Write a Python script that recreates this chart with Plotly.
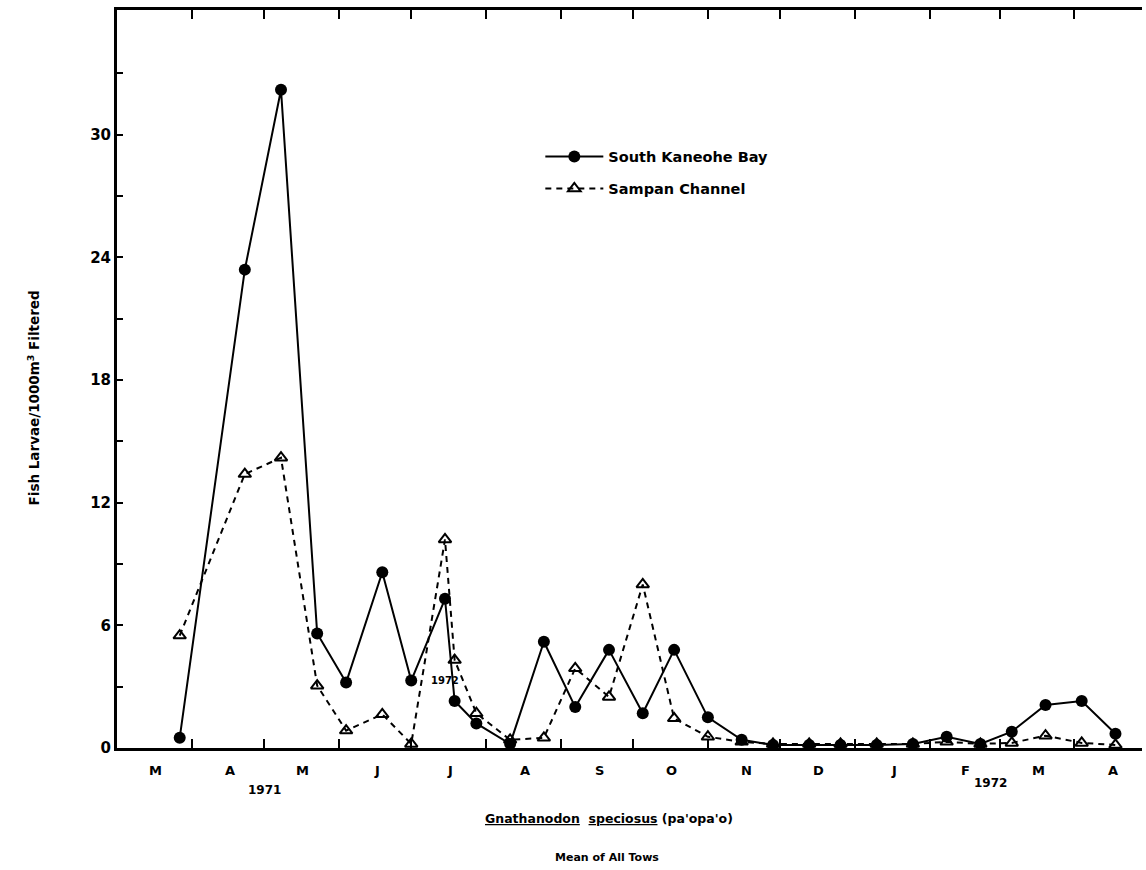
import calendar
from datetime import date, timedelta

import plotly.graph_objects as go

# Sampling dates (biweekly tows, March 1971 - April 1972)
sample_dates = [
    "1971-03-27", "1971-04-23", "1971-05-08", "1971-05-23", "1971-06-04",
    "1971-06-19", "1971-07-01", "1971-07-15", "1971-07-19", "1971-07-28",
    "1971-08-11", "1971-08-25", "1971-09-07", "1971-09-21", "1971-10-05",
    "1971-10-18", "1971-11-01", "1971-11-15", "1971-11-28", "1971-12-13",
    "1971-12-26", "1972-01-10", "1972-01-25", "1972-02-08", "1972-02-22",
    "1972-03-06", "1972-03-20", "1972-04-04", "1972-04-18",
]

# Fish larvae per 1000 m^3 filtered, mean of all tows
south_kaneohe = [
    0.5, 23.4, 32.2, 5.6, 3.2, 8.6, 3.3, 7.3, 2.3, 1.2,
    0.2, 5.2, 2.0, 4.8, 1.7, 4.8, 1.5, 0.4, 0.15, 0.15,
    0.15, 0.15, 0.2, 0.55, 0.2, 0.8, 2.1, 2.3, 0.7,
]
sampan_channel = [
    5.5, 13.4, 14.2, 3.05, 0.85, 1.65, 0.2, 10.2, 4.3, 1.7,
    0.4, 0.5, 3.9, 2.5, 8.0, 1.45, 0.55, 0.3, 0.2, 0.2,
    0.2, 0.2, 0.2, 0.3, 0.2, 0.25, 0.6, 0.25, 0.15,
]

month_letters = ["M", "A", "M", "J", "J", "A", "S", "O", "N", "D", "J", "F", "M", "A"]
y_tick_values = [0, 3, 6, 9, 12, 15, 18, 21, 24, 27, 30, 33]
y_tick_labels = ["0", "", "6", "", "12", "", "18", "", "24", "", "30", ""]

FONT = "DejaVu Sans"
BLACK = "#000000"


def bold(size):
    return dict(family=FONT, size=size, color=BLACK, weight="bold")


# Month starts (tick marks) and mid-month positions (letters)
months = []
y, m = 1971, 3
for _ in range(len(month_letters)):
    months.append((y, m))
    m += 1
    if m > 12:
        m, y = 1, y + 1
month_starts = [date(yy, mm, 1) for yy, mm in months]
month_mids = [
    date(yy, mm, 1) + timedelta(days=calendar.monthrange(yy, mm)[1] / 2 + 1)
    for yy, mm in months
]
tick_dates = [d.isoformat() for d in month_starts[1:]]

fig = go.Figure()

fig.add_trace(go.Scatter(
    x=sample_dates, y=south_kaneohe, name="South Kaneohe Bay",
    legendgroup="skb", mode="lines+markers",
    line=dict(color=BLACK, width=2),
    marker=dict(symbol="circle", size=12, color=BLACK),
    cliponaxis=False,
))
fig.add_trace(go.Scatter(
    x=sample_dates, y=sampan_channel, name="Sampan Channel",
    legendgroup="sc", mode="lines+markers",
    line=dict(color=BLACK, width=2, dash="6px,5px"),
    marker=dict(symbol="triangle-up-open", size=11, color=BLACK,
                line=dict(width=2, color=BLACK)),
    cliponaxis=False,
))

annotations = []
for d, letter in zip(month_mids, month_letters):
    annotations.append(dict(
        x=d.isoformat(), xref="x", y=-0.031, yref="paper",
        text=letter, showarrow=False, yanchor="middle", xanchor="center",
        font=bold(13),
    ))
annotations += [
    dict(x="1971-05-01", xref="x", y=-0.057, yref="paper", text="1971",
         showarrow=False, yanchor="middle", xanchor="center", font=bold(12)),
    dict(x="1972-02-26", xref="x", y=-0.047, yref="paper", text="1972",
         showarrow=False, yanchor="middle", xanchor="center", font=bold(12)),
    dict(x="1971-07-15", xref="x", y=3.3, yref="y", text="1972",
         showarrow=False, yanchor="middle", xanchor="center", font=bold(10)),
    dict(x=0.48, xref="paper", y=-0.095, yref="paper",
         text="<u>Gnathanodon</u>  <u>speciosus</u> (pa'opa'o)",
         showarrow=False, yanchor="middle", xanchor="center", font=bold(12.5)),
    dict(x=0.478, xref="paper", y=-0.148, yref="paper", text="Mean of All Tows",
         showarrow=False, yanchor="middle", xanchor="center", font=bold(11)),
    dict(x=-0.081, xref="paper", y=0.475, yref="paper", textangle=-90,
         text="Fish Larvae/1000m<sup>3</sup> Filtered",
         showarrow=False, yanchor="middle", xanchor="center", font=bold(13.5)),
]

fig.update_layout(
    width=1146, height=870,
    margin=dict(l=117, r=4, t=10, b=122),
    paper_bgcolor="white", plot_bgcolor="white",
    showlegend=True,
    legend=dict(
        x=0.413, y=0.823, xanchor="left", yanchor="top",
        bgcolor="rgba(0,0,0,0)", itemwidth=58,
        traceorder="grouped", tracegroupgap=10,
        font=bold(14.5),
    ),
    annotations=annotations,
    xaxis=dict(
        type="date", range=["1971-03-01", "1972-04-29"],
        tickvals=tick_dates, showticklabels=False,
        ticks="inside", ticklen=9, tickwidth=2, tickcolor=BLACK,
        showline=True, linewidth=3, linecolor=BLACK, mirror="ticks",
        showgrid=False, zeroline=False,
    ),
    yaxis=dict(
        range=[0, 36.1], tickvals=y_tick_values, ticktext=y_tick_labels,
        ticks="inside", ticklen=6, tickwidth=2, tickcolor=BLACK,
        showline=True, linewidth=3, linecolor=BLACK,
        showgrid=False, zeroline=False,
        tickfont=bold(15),
    ),
    yaxis2=dict(
        overlaying="y", side="right", range=[0, 36.1],
        tickvals=y_tick_values, showticklabels=False,
        ticks="inside", ticklen=12, tickwidth=2, tickcolor=BLACK,
        showline=True, linewidth=2, linecolor=BLACK,
        showgrid=False, zeroline=False,
    ),
)

fig.write_html("out.html")
